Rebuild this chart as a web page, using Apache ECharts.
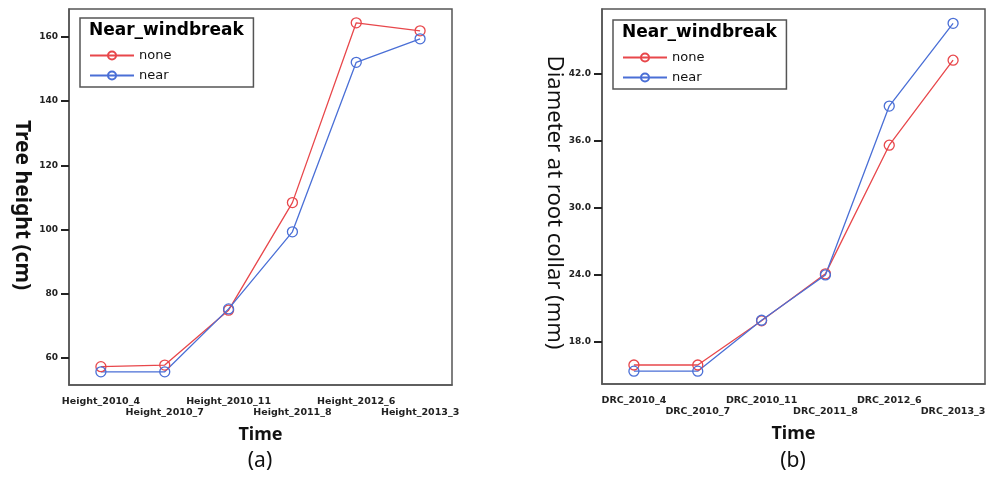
<!DOCTYPE html>
<html>
<head>
<meta charset="utf-8">
<script src="https://cdn.jsdelivr.net/npm/echarts@6/dist/echarts.min.js"></script>
<style>
  html, body { margin: 0; padding: 0; background: #fff; }
  #chart { width: 991px; height: 478px; }
</style>
</head>
<body>
<div id="chart"></div>
<script>
// Measurement dates for the two growth variables
const heightCategories = ['Height_2010_4', 'Height_2010_7', 'Height_2010_11', 'Height_2011_8', 'Height_2012_6', 'Height_2013_3'];
const dracCategories = ['DRC_2010_4', 'DRC_2010_7', 'DRC_2010_11', 'DRC_2011_8', 'DRC_2012_6', 'DRC_2013_3'];

// Mean tree height (cm) by windbreak proximity
const heightNone = [57.3, 57.8, 74.9, 108.4, 164.4, 161.9];
const heightNear = [55.7, 55.7, 75.3, 99.3, 152.1, 159.4];

// Mean diameter at root collar (mm) by windbreak proximity
const drcNone = [15.95, 15.95, 19.9, 24.1, 35.6, 43.2];
const drcNear = [15.4, 15.4, 19.95, 24.0, 39.1, 46.5];

// Tick values shown on the value axes
const heightTicks = [60, 80, 100, 120, 140, 160];
const drcTicks = [18, 24, 30, 36, 42];

const RED = '#e8474b';
const BLUE = '#4a6fd6';
const AXIS = '#555';

const chart = echarts.init(document.getElementById('chart'), null, { renderer: 'canvas' });

function catAxis(gridIndex, cats) {
  return {
    type: 'category',
    gridIndex,
    data: cats,
    boundaryGap: true,
    name: 'Time',
    nameLocation: 'middle',
    nameGap: 41,
    nameTextStyle: { fontFamily: 'Noto Sans', fontWeight: 'bold', fontSize: 18, color: '#111' },
    axisLine: { lineStyle: { color: AXIS, width: 1.5 } },
    axisTick: { alignWithLabel: true, length: 7, lineStyle: { color: '#222', width: 2 } },
    axisLabel: {
      interval: 0,
      margin: 11,
      fontFamily: 'DejaVu Sans',
      fontWeight: 'bold',
      fontSize: 9.5,
      color: '#222',
      lineHeight: 11,
      formatter: (v, i) => (i % 2 ? '\n' + v : v)
    }
  };
}

// namePad nudges the rotated axis title along the axis (downwards on screen)
function valAxis(gridIndex, min, max, ticks, name, gap, decimals, bold, nameSize, namePad) {
  return {
    type: 'value',
    gridIndex,
    min,
    max,
    name,
    nameLocation: 'middle',
    nameRotate: -90,
    nameGap: gap,
    nameTextStyle: {
      fontFamily: 'Noto Sans',
      fontWeight: bold ? 'bold' : 'normal',
      fontSize: nameSize,
      color: '#111',
      padding: [0, 0, 0, namePad]
    },
    splitLine: { show: false },
    axisLine: { show: true, lineStyle: { color: AXIS, width: 1.5 } },
    axisTick: { show: true, length: 8, customValues: ticks, lineStyle: { color: '#222', width: 2 } },
    axisLabel: {
      customValues: ticks,
      margin: 11,
      fontFamily: 'DejaVu Sans',
      fontWeight: 'bold',
      fontSize: 9,
      color: '#222',
      formatter: v => v.toFixed(decimals)
    }
  };
}

function lineSeries(name, color, xIdx, yIdx, data) {
  return {
    type: 'line',
    name,
    xAxisIndex: xIdx,
    yAxisIndex: yIdx,
    data,
    symbol: 'circle',
    symbolSize: 10,
    showAllSymbol: true,
    lineStyle: { color, width: 1.3 },
    itemStyle: { color: 'rgba(255,255,255,0)', borderColor: color, borderWidth: 1.3 },
    emphasis: { disabled: true },
    animation: false
  };
}

function legendAt(left, top) {
  return {
    orient: 'vertical',
    left,
    top,
    data: ['none', 'near'],
    itemWidth: 44,
    itemHeight: 10,
    itemGap: 7,
    padding: [31, 82, 5, 9],
    borderColor: '#555',
    borderWidth: 1.5,
    selectedMode: false,
    textStyle: { fontFamily: 'DejaVu Sans', fontSize: 13, color: '#111' }
  };
}

const titleStyle = { fontFamily: 'DejaVu Sans', fontWeight: 'bold', fontSize: 17, color: '#000' };
const capStyle = { fontFamily: 'Noto Sans', fontWeight: 'normal', fontSize: 21, color: '#111' };

chart.setOption({
  animation: false,
  backgroundColor: '#fff',
  title: [
    { text: 'Near_windbreak', left: 89, top: 22, padding: 0, textStyle: titleStyle },
    { text: 'Near_windbreak', left: 622, top: 24, padding: 0, textStyle: titleStyle },
    { text: '(a)', left: 260, top: 451, textAlign: 'center', padding: 0, textStyle: capStyle },
    { text: '(b)', left: 793, top: 451, textAlign: 'center', padding: 0, textStyle: capStyle }
  ],
  legend: [legendAt(80, 18), legendAt(613, 20)],
  grid: [
    { left: 69, top: 9, width: 383, height: 376, show: true, borderColor: AXIS, borderWidth: 1.5 },
    { left: 602, top: 9, width: 383, height: 375, show: true, borderColor: AXIS, borderWidth: 1.5 }
  ],
  xAxis: [catAxis(0, heightCategories), catAxis(1, dracCategories)],
  yAxis: [
    valAxis(0, 51.6, 168.7, heightTicks, 'Tree height (cm)', 37, 0, true, 21, 16),
    valAxis(1, 14.25, 47.78, drcTicks, 'Diameter at root collar (mm)', 35, 1, false, 22, 12)
  ],
  series: [
    lineSeries('none', RED, 0, 0, heightNone),
    lineSeries('near', BLUE, 0, 0, heightNear),
    lineSeries('none', RED, 1, 1, drcNone),
    lineSeries('near', BLUE, 1, 1, drcNear)
  ]
});
</script>
</body>
</html>
